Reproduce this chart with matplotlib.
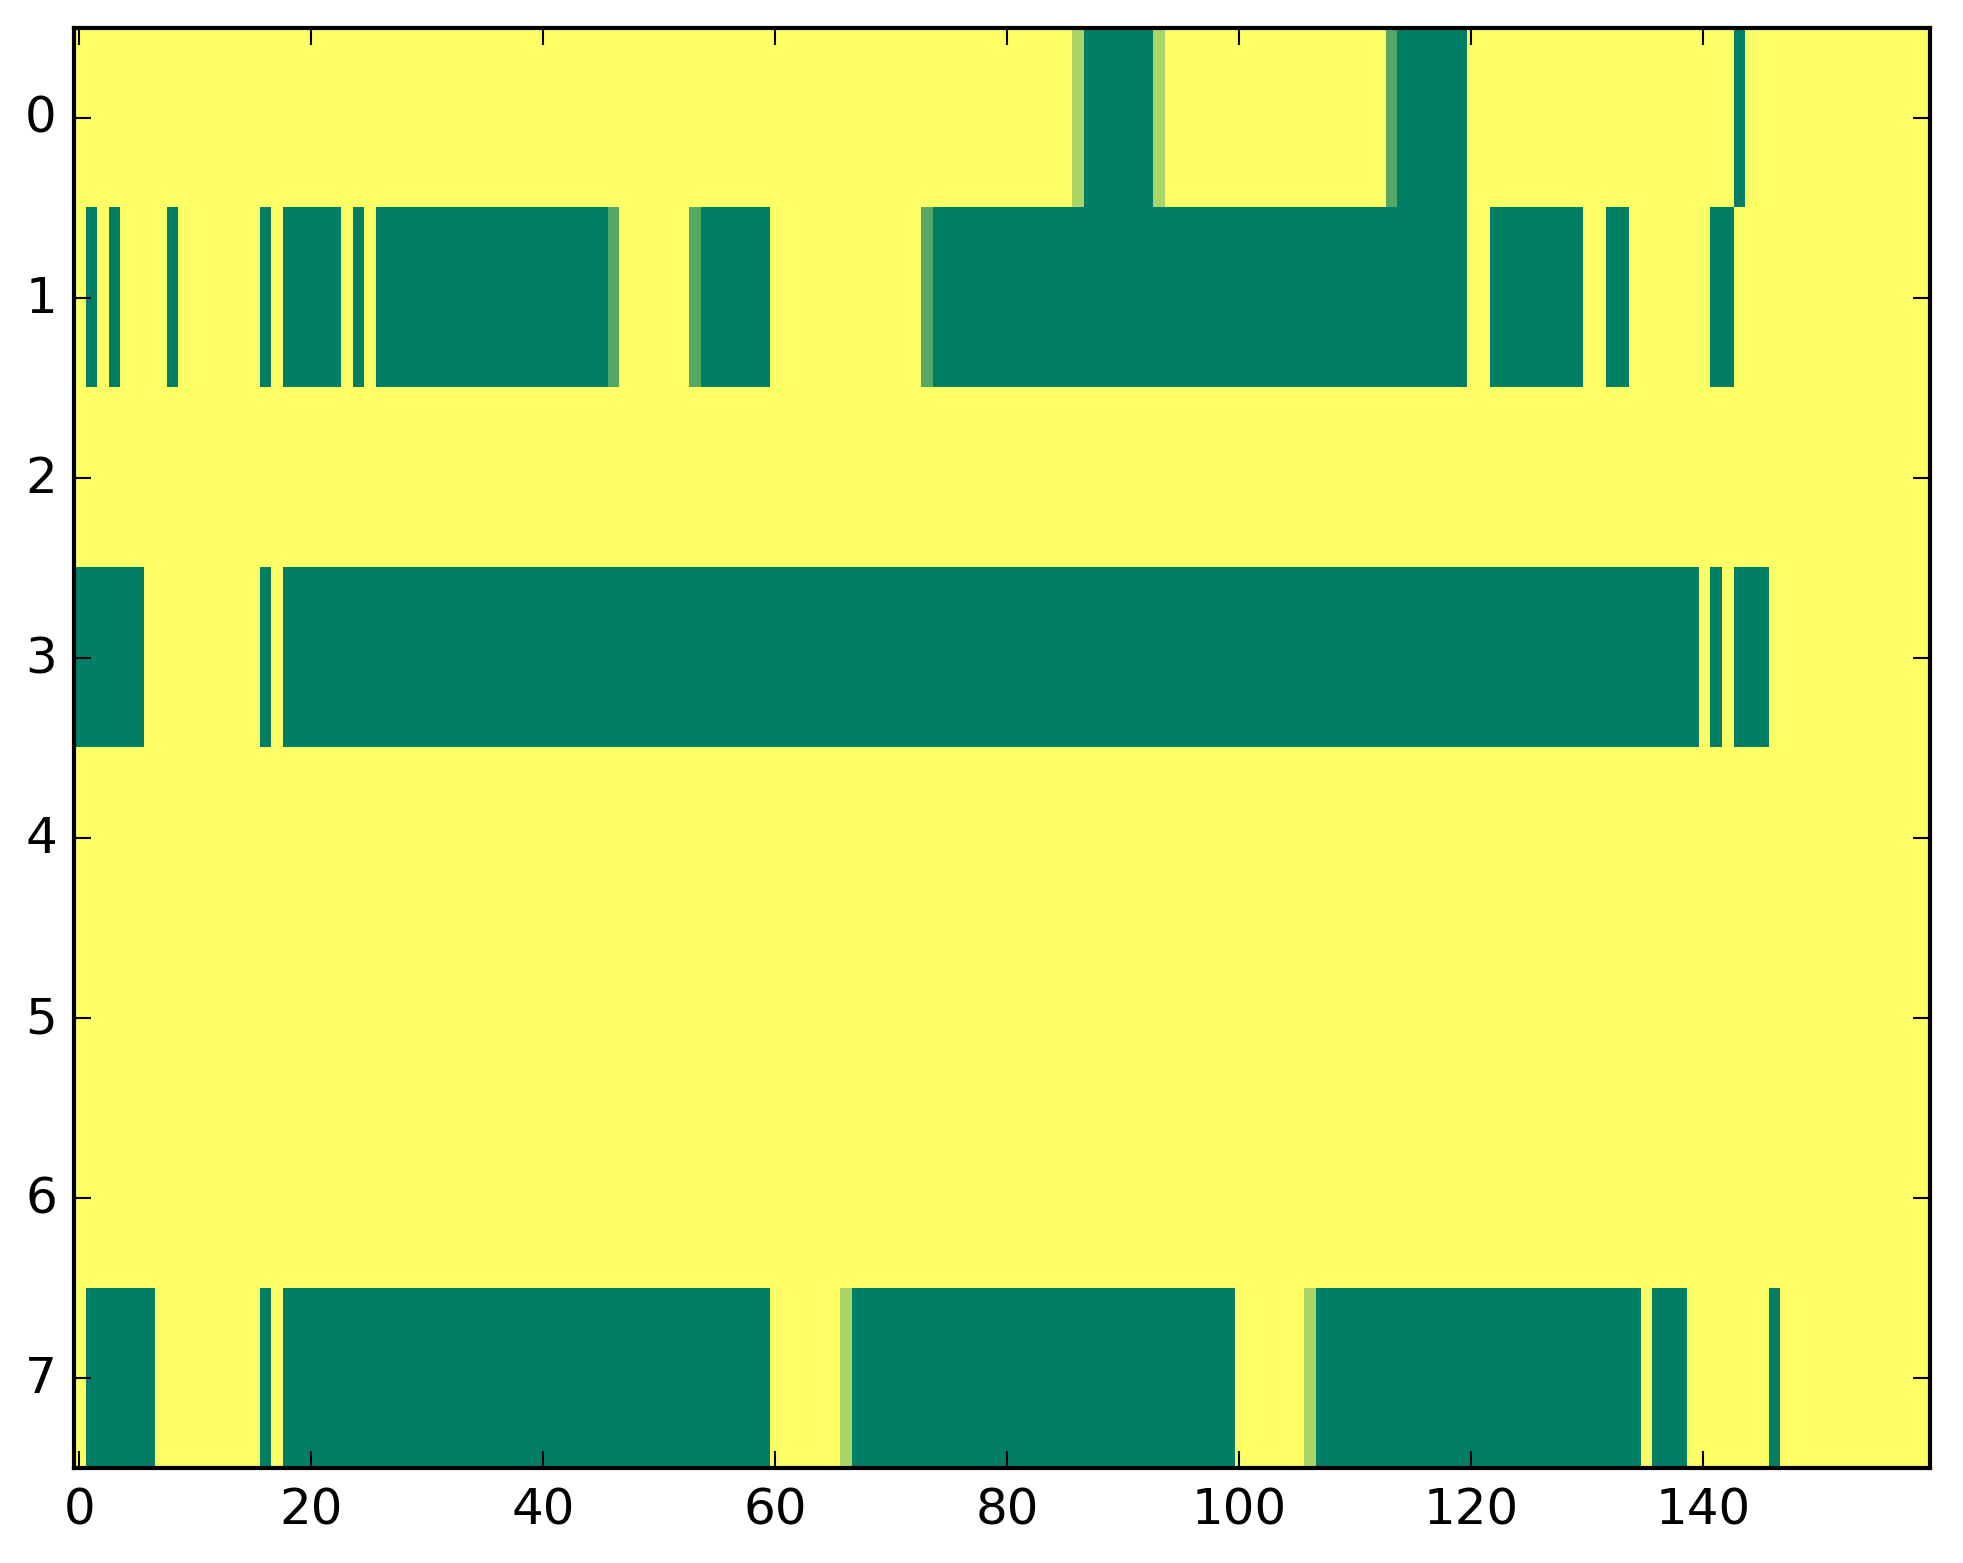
import numpy as np
import matplotlib
matplotlib.use("Agg")
import matplotlib.pyplot as plt

n_rows = 8
n_cols = 160

# green spans per row: (first col, last col, value); everything else is 1.0 (yellow)
row0_spans = [(86, 86, 0.67), (87, 92, 0.0), (93, 93, 0.67), (113, 113, 0.33),
              (114, 119, 0.0), (143, 143, 0.0)]
row1_spans = [(1, 1, 0.0), (3, 3, 0.0), (8, 8, 0.0), (16, 16, 0.0), (18, 22, 0.0),
              (24, 24, 0.0), (26, 45, 0.0), (46, 46, 0.33), (53, 53, 0.33),
              (54, 59, 0.0), (73, 73, 0.33), (74, 119, 0.0), (122, 129, 0.0),
              (132, 133, 0.0), (141, 142, 0.0)]
row3_spans = [(0, 5, 0.0), (16, 16, 0.0), (18, 139, 0.0), (141, 141, 0.0),
              (143, 145, 0.0)]
row7_spans = [(1, 6, 0.0), (16, 16, 0.0), (18, 59, 0.0), (66, 66, 0.67),
              (67, 99, 0.0), (106, 106, 0.67), (107, 134, 0.0), (136, 138, 0.0),
              (146, 146, 0.0)]

spans_by_row = {0: row0_spans, 1: row1_spans, 3: row3_spans, 7: row7_spans}

grid = np.ones((n_rows, n_cols))
for r, spans in spans_by_row.items():
    for a, b, v in spans:
        grid[r, a:b + 1] = v

plt.style.use("classic")
fig = plt.figure(figsize=(1963 / 300, 1564 / 300), dpi=300, facecolor="white")
ax = fig.add_axes([0.0375, 0.0605, 0.9455, 0.921])
ax.imshow(grid, cmap="summer", vmin=0, vmax=1, aspect="auto",
          interpolation="nearest")
ax.set_xlim(-0.5, n_cols - 0.5)
ax.set_ylim(n_rows - 0.5, -0.5)
ax.set_xticks(np.arange(0, 141, 20))
ax.set_yticks(np.arange(n_rows))
ax.tick_params(labelsize=12)

fig.savefig("out.png", dpi=300, facecolor="white")
